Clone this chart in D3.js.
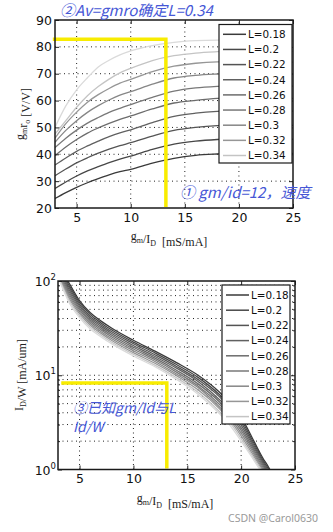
<!DOCTYPE html>
<html>
<head>
<meta charset="utf-8">
<script src="https://cdn.jsdelivr.net/npm/d3@7"></script>
<style>
  body { margin: 0; background: #fff; }
  svg { display: block; }
</style>
</head>
<body>
<div id="chart"></div>
<script>
// legend labels (legend only lists the first 9 curves)
const legendLabels = ["L=0.18", "L=0.2", "L=0.22", "L=0.24", "L=0.26", "L=0.28", "L=0.3", "L=0.32", "L=0.34"];
const grays = ["#3a3a3a", "#474747", "#545454", "#606060", "#6c6c6c", "#787878", "#868686", "#969696", "#c4c4c4", "#dadada"];

// top plot: gm*ro vs gm/Id
const gainX = [3, 4, 5, 6, 7, 8, 9, 10, 12, 14, 16, 18, 20, 22, 25];
const gainSeries = [
  [23.5, 25.7, 27.7, 29.4, 30.9, 32.3, 33.5, 34.4, 36.7, 38.5, 39.6, 40.1, 40.4, 40.4, 40.3],
  [27.3, 29.7, 31.9, 33.8, 35.4, 36.9, 38.2, 39.3, 41.8, 43.8, 44.9, 45.5, 45.8, 45.8, 45.6],
  [32, 34.5, 36.8, 38.7, 40.4, 41.9, 43.2, 44.3, 46.8, 48.9, 50, 50.7, 51, 51, 50.8],
  [36, 38.6, 41.1, 43.1, 44.9, 46.6, 48, 49.1, 51.8, 54.1, 55.3, 56, 56.3, 56.3, 56.1],
  [39.5, 42.7, 45.5, 47.9, 49.8, 51.5, 53, 54.3, 56.9, 59.1, 60.1, 60.8, 61, 61, 60.8],
  [42.5, 46, 49, 51.6, 53.7, 55.6, 57.1, 58.5, 61.2, 63.5, 64.7, 65.3, 65.6, 65.6, 65.4],
  [44.5, 48.9, 52.5, 55.6, 58.1, 60.2, 62, 63.3, 66.1, 68.4, 69.4, 69.9, 70.2, 70.2, 70],
  [46, 51.4, 55.7, 59.4, 62.2, 64.5, 66.5, 67.9, 70.8, 72.8, 73.9, 74.4, 74.5, 74.5, 74.3],
  [47.5, 52.5, 57.5, 61.8, 65.2, 68, 70.3, 72, 74.9, 76.7, 77.7, 78.2, 78.5, 78.5, 78.3],
  [50, 58, 64, 68.5, 72.5, 75, 77, 78.5, 80.5, 81.7, 82.3, 82.5, 82.5, 82.4, 82.2]
];

// bottom plot: Id/W vs gm/Id (log)
const densX = [3, 3.5, 4, 5, 6, 7, 8, 10, 12, 14, 16, 18, 19, 20, 21, 21.5, 22, 22.5, 23];
const densSeries = [
  [140, 118, 96, 62, 46, 37.5, 31.5, 23.5, 18, 13.6, 10, 6.6, 5, 3.6, 2.2, 1.7, 1.33, 1.08, 0.85],
  [136.3, 113, 91.1, 59.2, 44, 35.9, 30.2, 22.5, 17.3, 13, 9.5, 6.2, 4.7, 3.37, 2.08, 1.62, 1.27, 1.03, 0.81],
  [132.7, 108.3, 86.5, 56.6, 42.1, 34.4, 28.9, 21.6, 16.5, 12.4, 9, 5.9, 4.4, 3.16, 1.97, 1.54, 1.22, 0.98, 0.77],
  [129.2, 103.7, 82.1, 54, 40.3, 33, 27.7, 20.7, 15.8, 11.9, 8.6, 5.5, 4.2, 2.96, 1.87, 1.47, 1.17, 0.93, 0.74],
  [125.8, 99.3, 77.9, 51.6, 38.6, 31.6, 26.6, 19.8, 15.2, 11.3, 8.1, 5.2, 3.9, 2.77, 1.77, 1.4, 1.12, 0.89, 0.7],
  [122.4, 95.1, 73.9, 49.3, 37, 30.3, 25.5, 19, 14.6, 10.8, 7.7, 4.9, 3.7, 2.6, 1.68, 1.33, 1.07, 0.85, 0.67],
  [119.2, 91.1, 70.2, 47.1, 35.4, 29, 24.4, 18.2, 14, 10.3, 7.4, 4.6, 3.5, 2.43, 1.59, 1.27, 1.02, 0.81, 0.64],
  [116, 87.2, 66.6, 45, 33.9, 27.8, 23.4, 17.4, 13.4, 9.9, 7, 4.4, 3.3, 2.28, 1.5, 1.21, 0.98, 0.77, 0.61],
  [113, 83.5, 63.2, 42.9, 32.4, 26.6, 22.4, 16.7, 12.8, 9.4, 6.6, 4.1, 3.1, 2.13, 1.42, 1.15, 0.94, 0.73, 0.58],
  [110, 80, 60, 41, 31, 25.5, 21.5, 16, 12.3, 9, 6.3, 3.9, 2.9, 2.0, 1.35, 1.1, 0.9, 0.7, 0.55]
];

const xTicks = [5, 10, 15, 20, 25];
const gainTicks = [20, 30, 40, 50, 60, 70, 80, 90];
const densTicks = [1, 10, 100];

// yellow guide lines (data coords)
const topGuide = { x0: 2.8, x: 13.25, y: 82.8 };
const botGuide = { x0: 3.3, x: 13.1, y: 8.3 };

const width = 333, height = 532;
const svg = d3.select("#chart").append("svg")
  .attr("width", width).attr("height", height);

const tickFont = "'DejaVu Sans', sans-serif";
const serif = "'Liberation Serif', 'Times New Roman', serif";
const blue = "#4657d6";

function drawPlot(cfg) {
  const { x, y, id } = cfg;
  const [x0, x1] = x.range();
  const [y0, y1] = y.range(); // y0 bottom, y1 top
  const g = svg.append("g");

  g.append("clipPath").attr("id", id).append("rect")
    .attr("x", x0).attr("y", y1).attr("width", x1 - x0).attr("height", y0 - y1);

  // grid
  const grid = g.append("g").attr("stroke", "#222").attr("stroke-width", 1)
    .attr("stroke-dasharray", "1,3.5");
  grid.selectAll("line.gx").data(cfg.gridX).join("line")
    .attr("x1", d => x(d)).attr("x2", d => x(d)).attr("y1", y0).attr("y2", y1);
  grid.selectAll("line.gy").data(cfg.gridY).join("line")
    .attr("y1", d => y(d)).attr("y2", d => y(d)).attr("x1", x0).attr("x2", x1);

  // curves
  const line = d3.line().x(d => x(d[0])).y(d => y(d[1])).curve(d3.curveMonotoneX);
  const curves = g.append("g").attr("clip-path", `url(#${id})`);
  cfg.series.forEach((s, i) => {
    curves.append("path")
      .datum(cfg.xs.map((v, j) => [v, s[j]]))
      .attr("fill", "none").attr("stroke", grays[i]).attr("stroke-width", 1.3)
      .attr("d", line);
  });

  // yellow guide
  const gd = cfg.guide;
  g.append("path")
    .attr("d", `M${x(gd.x0)},${y(gd.y)}H${x(gd.x)}V${y0 - 1}`)
    .attr("fill", "none").attr("stroke", "#f8ec00").attr("stroke-width", 3.5);

  // axes with inward ticks on all four sides
  const bottom = g.append("g").attr("transform", `translate(0,${y0})`)
    .call(d3.axisBottom(x).tickValues(xTicks).tickSizeInner(-4).tickSizeOuter(0).tickPadding(5));
  g.append("g").attr("transform", `translate(0,${y1})`)
    .call(d3.axisTop(x).tickValues(xTicks).tickSizeInner(-4).tickSizeOuter(0).tickFormat(""));
  const left = g.append("g").attr("transform", `translate(${x0},0)`)
    .call(cfg.leftAxis(d3.axisLeft(y)).tickSizeInner(-4).tickSizeOuter(0).tickPadding(3));
  g.append("g").attr("transform", `translate(${x1},0)`)
    .call(cfg.leftAxis(d3.axisRight(y)).tickSizeInner(-4).tickSizeOuter(0).tickFormat(""));
  if (cfg.minor) {
    g.append("g").attr("transform", `translate(${x0},0)`)
      .call(d3.axisLeft(y).tickValues(cfg.minor).tickSizeInner(-2).tickSizeOuter(0).tickFormat(""));
    g.append("g").attr("transform", `translate(${x1},0)`)
      .call(d3.axisRight(y).tickValues(cfg.minor).tickSizeInner(-2).tickSizeOuter(0).tickFormat(""));
  }
  g.selectAll(".domain").remove();
  g.selectAll(".tick line").attr("stroke", "#222");
  g.selectAll(".tick text").attr("font-family", tickFont).attr("font-size", 12.5).attr("fill", "#111");

  // frame
  g.append("rect").attr("x", x0).attr("y", y1).attr("width", x1 - x0).attr("height", y0 - y1)
    .attr("fill", "none").attr("stroke", "#1a1a1a").attr("stroke-width", 1.5);

  // legend
  const lg = cfg.legend;
  const lgG = g.append("g");
  lgG.append("rect").attr("x", lg.x).attr("y", lg.y).attr("width", lg.w).attr("height", lg.h)
    .attr("fill", "#fff").attr("stroke", "#1a1a1a").attr("stroke-width", 1.2);
  legendLabels.forEach((lab, i) => {
    const yy = lg.y + lg.first + i * lg.step;
    lgG.append("line").attr("x1", lg.x + 4).attr("x2", lg.x + 27).attr("y1", yy).attr("y2", yy)
      .attr("stroke", grays[i]).attr("stroke-width", 1.5);
    lgG.append("text").attr("x", lg.x + 29).attr("y", yy + 3.8).text(lab)
      .attr("font-family", tickFont).attr("font-size", 10.4).attr("fill", "#111");
  });
  return { g, left, bottom };
}

// ---- top plot ----
const xTop = d3.scaleLinear().domain([3, 25]).range([55, 293]);
const yTop = d3.scaleLinear().domain([20, 90]).range([208, 20]);
drawPlot({
  id: "clipTop", x: xTop, y: yTop, xs: gainX, series: gainSeries,
  gridX: [5, 10, 15, 20], gridY: [30, 40, 50, 60, 70, 80],
  guide: topGuide,
  leftAxis: a => a.tickValues(gainTicks),
  legend: { x: 219, y: 24.5, w: 73, h: 138.5, first: 9.8, step: 15.15 }
});

// ---- bottom plot ----
const xBot = d3.scaleLinear().domain([3, 25]).range([58, 295]);
const yBot = d3.scaleLog().domain([1, 100]).range([469.5, 281]);
const minorVals = [2, 3, 4, 5, 6, 7, 8, 9, 20, 30, 40, 50, 60, 70, 80, 90];
const bot = drawPlot({
  id: "clipBot", x: xBot, y: yBot, xs: densX, series: densSeries,
  gridX: [5, 10, 15, 20], gridY: [10].concat(minorVals),
  guide: botGuide,
  leftAxis: a => a.tickValues(densTicks).tickFormat(""),
  minor: minorVals,
  legend: { x: 222, y: 285, w: 68, h: 139, first: 10, step: 15.2 }
});
// 10^n labels
bot.left.selectAll(".tick").each(function (d) {
  const t = d3.select(this).append("text")
    .attr("x", -2).attr("y", 4.5).attr("text-anchor", "end")
    .attr("font-family", tickFont).attr("font-size", 12.5).attr("fill", "#111");
  t.append("tspan").text("10");
  t.append("tspan").attr("dy", -6).attr("font-size", 8.5).text(Math.round(Math.log10(d)));
});

// ---- axis labels ----
function subLabel(sel, parts) {
  parts.forEach(p => {
    if (p.sub) {
      sel.append("tspan").attr("font-size", 8).attr("dy", 3).text(p.sub);
      sel.append("tspan").attr("dy", -3).text("");
    } else {
      sel.append("tspan").text(p.t);
    }
  });
}
const xl1 = svg.append("text").attr("x", 169).attr("y", 240).attr("text-anchor", "middle")
  .attr("font-family", serif).attr("font-size", 12).attr("fill", "#222");
subLabel(xl1, [{ t: "g" }, { sub: "m" }, { t: "/I" }, { sub: "D" }, { t: "\u00a0\u00a0[mS/mA]" }]);
const xl2 = svg.append("text").attr("x", 175).attr("y", 502).attr("text-anchor", "middle")
  .attr("font-family", serif).attr("font-size", 12).attr("fill", "#222");
subLabel(xl2, [{ t: "g" }, { sub: "m" }, { t: "/I" }, { sub: "D" }, { t: "\u00a0\u00a0[mS/mA]" }]);

const yl1 = svg.append("text").attr("transform", "translate(24,114) rotate(-90)").attr("text-anchor", "middle")
  .attr("font-family", serif).attr("font-size", 12).attr("fill", "#222");
subLabel(yl1, [{ t: "g" }, { sub: "m" }, { t: "r" }, { sub: "o" }, { t: " [V/V]" }]);
const yl2 = svg.append("text").attr("transform", "translate(23,375) rotate(-90)").attr("text-anchor", "middle")
  .attr("font-family", serif).attr("font-size", 12).attr("fill", "#222");
subLabel(yl2, [{ t: "I" }, { sub: "D" }, { t: "/W [mA/um]" }]);

// ---- annotations ----
const cjk = "'Noto Sans CJK SC', 'Noto Sans', sans-serif";
function note(x, y, txt, size) {
  svg.append("text").attr("x", x).attr("y", y).text(txt)
    .attr("font-family", cjk).attr("font-style", "italic").attr("font-size", size)
    .attr("fill", blue);
}
note(60, 16, "②Av=gmro确定L=0.34", 15);
note(180, 198, "① gm/id=12，速度", 15);
note(73, 413, "③已知gm/Id与L", 14);
note(73, 432, "Id/W", 14);

svg.append("text").attr("x", 318).attr("y", 522).attr("text-anchor", "end")
  .attr("font-family", "'Noto Sans', sans-serif").attr("font-size", 10.5).attr("fill", "#9a9a9a")
  .text("CSDN @Carol0630");
</script>
</body>
</html>
